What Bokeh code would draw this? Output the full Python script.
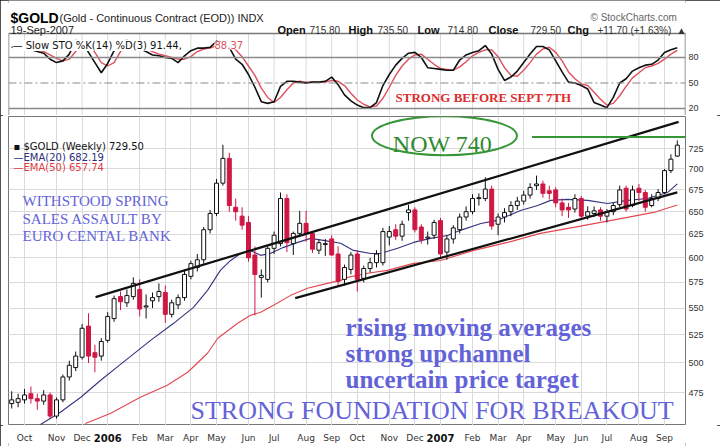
import math
from bokeh.plotting import figure
from bokeh.layouts import column
from bokeh.models import Range1d, FixedTicker, PrintfTickFormatter, Label, Span, ColumnDataSource
from bokeh.core.properties import value
from bokeh.embed import file_html
from bokeh.resources import INLINE

# ---------------- data (weekly bars, week 0 = 19-Sep-2005) ----------------
weeks = list(range(105))
opens = [466, 467, 469, 474, 470, 468, 473, 456, 469, 488,
         496, 505, 533, 509, 506, 520, 540, 561, 555, 561,
         568, 551, 557, 561, 565, 544, 553, 560, 581, 590,
         598, 630, 648, 683, 713, 655, 645, 638, 603, 580,
         578, 610, 615, 665, 615, 626, 637, 626, 608, 614,
         620, 604, 578, 588, 604, 579, 589, 595, 595, 622,
         630, 623, 649, 652, 633, 621, 624, 640, 606, 620,
         630, 644, 650, 665, 665, 676, 636, 644, 650, 657,
         662, 669, 680, 682, 674, 675, 660, 655, 653, 665,
         645, 648, 652, 645, 650, 658, 677, 657, 677, 672,
         657, 665, 672, 698, 715.8]
highs = [476, 474, 478, 480, 474, 477, 475, 471, 490, 502,
         510, 535, 545, 516, 522, 546, 562, 566, 568, 580,
         578, 563, 565, 574, 572, 558, 563, 588, 597, 604,
         633, 652, 688, 730, 720, 665, 655, 645, 612, 588,
         612, 628, 672, 670, 628, 651, 651, 628, 619, 620,
         624, 612, 593, 606, 608, 592, 600, 608, 632, 634,
         636, 640, 658, 655, 636, 628, 641, 643, 624, 635,
         648, 656, 670, 671, 690, 680, 648, 654, 662, 667,
         674, 683, 692, 686, 680, 678, 665, 660, 670, 668,
         656, 656, 655, 653, 660, 680, 680, 680, 682, 675,
         670, 676, 700, 718, 735.5]
lows = [462, 463, 466, 466, 461, 465, 454, 454, 467, 485,
        493, 503, 500, 492, 502, 518, 537, 548, 551, 558,
        542, 540, 550, 556, 536, 541, 549, 557, 578, 586,
        594, 626, 645, 680, 650, 640, 630, 596, 543, 560,
        575, 604, 612, 606, 603, 622, 617, 605, 604, 602,
        602, 572, 572, 583, 566, 575, 585, 590, 592, 613,
        619, 618, 640, 627, 615, 614, 620, 600, 598, 615,
        626, 640, 647, 657, 662, 630, 624, 638, 645, 652,
        658, 665, 675, 666, 664, 655, 645, 643, 649, 641,
        641, 644, 640, 638, 646, 655, 650, 655, 662, 650,
        655, 662, 670, 695, 714.8]
closes = [469, 470, 473, 470, 468, 473, 456, 469, 488, 498,
          506, 531, 506, 505, 519, 542, 559, 556, 562, 574,
          549, 552, 560, 566, 544, 555, 560, 583, 594, 598,
          630, 648, 683, 713, 657, 650, 635, 600, 583, 582,
          610, 624, 665, 616, 626, 637, 626, 609, 616, 615,
          603, 576, 590, 603, 578, 589, 595, 604, 628, 628,
          623, 636, 652, 630, 619, 622, 638, 604, 620, 632,
          644, 650, 665, 666, 676, 634, 644, 649, 657, 662,
          669, 678, 682, 671, 671, 660, 652, 652, 665, 645,
          650, 651, 645, 650, 657, 675, 653, 675, 672, 655,
          665, 672, 698, 712, 729.5]

# Slow stochastic %K(14) and %D(3), one value per week
sto_k = [92, 91, 90, 89, 87, 85, 78, 74, 76, 84,
         100, 99, 86, 74, 62, 73, 88, 99, 100, 94,
         90, 87, 83, 82, 80, 79, 74, 82, 88, 91,
         91, 92, 99, 97, 92, 78, 72, 60, 45, 28,
         26, 28, 46, 52, 52, 51, 50, 51, 51, 52,
         57, 48, 36, 29, 24, 21, 21, 27, 47, 60,
         71, 79, 85, 86, 80, 68, 67, 66, 65, 65,
         77, 83, 86, 88, 94, 84, 66, 53, 57, 64,
         74, 84, 93, 93, 89, 76, 63, 51, 50, 47,
         43, 27, 24, 21, 33, 50, 55, 64, 68, 71,
         72, 77, 86, 89, 91.44]
sto_d = [92, 91, 91, 90, 89, 87, 83, 79, 76, 78,
         87, 94, 95, 86, 74, 70, 74, 87, 96, 98,
         95, 90, 87, 84, 82, 80, 78, 78, 81, 87,
         90, 91, 94, 96, 96, 89, 81, 70, 59, 44,
         33, 27, 33, 42, 50, 52, 51, 51, 51, 51,
         53, 52, 47, 38, 30, 25, 22, 23, 32, 45,
         59, 70, 78, 83, 84, 78, 72, 67, 66, 65,
         69, 75, 82, 86, 89, 89, 81, 68, 59, 58,
         65, 74, 84, 90, 92, 86, 76, 63, 55, 49,
         47, 39, 31, 24, 26, 35, 46, 56, 62, 68,
         70, 73, 78, 84, 88.37]

# Moving averages (week, price)
ema20_weeks = [4.5, 7.6, 10.8, 13.9, 17.0, 21.7, 25.3, 28.4, 30.6, 32.6,
               34.2, 35.8, 37.3, 38.9, 40.4, 42.5, 44.7, 46.7, 48.7, 51.4,
               53.4, 56.1, 57.6, 60.3, 62.8, 65.4, 68.1, 70.1, 73.3, 75.9,
               79.5, 82.2, 84.2, 86.8, 90.0, 93.1, 96.2, 99.3, 102.5, 104.0]
ema20_vals = [449.4, 459.0, 471.1, 485.2, 498.8, 520.0, 535.6, 550.6, 567.1, 587.1,
              597.3, 604.6, 607.8, 602.6, 604.6, 611.0, 616.3, 620.6, 618.5, 615.3,
              607.8, 604.6, 604.6, 610.0, 616.3, 620.6, 623.8, 629.3, 636.9, 640.3,
              651.4, 657.1, 662.9, 664.0, 662.9, 659.4, 662.9, 665.1, 672.1, 682.2]
ema50_weeks = [11.5, 15.4, 20.1, 24.3, 27.5, 30.6, 32.2, 35.3, 37.3, 38.9,
               40.9, 43.6, 46.2, 49.3, 51.4, 52.5, 55.6, 58.7, 62.8, 67.0,
               72.2, 77.5, 82.6, 87.8, 92.0, 96.2, 100.3, 104.0]
ema50_vals = [450.2, 458.1, 471.1, 481.1, 492.0, 508.5, 521.9, 535.6, 543.1, 545.9,
              552.6, 562.2, 569.1, 574.0, 577.0, 580.0, 584.1, 587.1, 594.3, 597.3,
              607.8, 616.3, 626.0, 632.6, 638.1, 643.6, 649.2, 657.7]

# Hand-drawn channel lines and target line (week, price)
upper_channel_weeks = [13.1, 104.2]
upper_channel_prices = [560.5, 759.6]
lower_channel_weeks = [44.3, 104.0]
lower_channel_prices = [559.5, 672.1]
target_weeks = [81.3, 106.0]
target_prices = [740, 740]

# Axes
month_ticks = [2, 7, 11, 15, 20, 24, 28, 32, 37, 41, 46, 50,
               54, 59, 63, 67, 72, 76, 80, 85, 89, 93, 98, 102]
month_labels = ["Oct", "Nov", "Dec", "2006", "Feb", "Mar", "Apr", "May", "Jun", "Jul", "Aug", "Sep",
                "Oct", "Nov", "Dec", "2007", "Feb", "Mar", "Apr", "May", "Jun", "Jul", "Aug", "Sep"]
price_ticks = [475, 500, 525, 550, 575, 600, 625, 650, 675, 700, 725]
sto_levels = [20, 50, 80]

# ---------------- helpers for annotation placement ----------------
W = 720
BL, BR = 8, 35          # frame borders left / right
X0, X1 = -0.5, 105.28   # visible weeks
S0, S1 = 11.76, 108.2   # stochastic panel bounds


def wx(px):
    return (px - 11.2) / 6.4


def py(px):
    return math.exp(6.5862 - (px - 148) / 577.0)


def sy(px):
    return 80 - (px - 57) / 0.85


def lab(fig, x, y, text, size, color="#000000", font="DejaVu Sans", style="normal",
        align="left", baseline="alphabetic", bg=None):
    fig.add_layout(Label(x=x, y=y, text=text, text_font_size=f"{size}px", text_color=color,
                         text_font=font, text_font_style=style, text_align=align,
                         text_baseline=baseline, background_fill_color=bg))


def right_axis(fig, ticks):
    fig.yaxis.ticker = FixedTicker(ticks=ticks)
    fig.yaxis.axis_line_color = None
    fig.yaxis.major_tick_line_color = None
    fig.yaxis.minor_tick_line_color = None
    fig.yaxis.major_tick_out = 0
    fig.yaxis.minor_tick_out = 0
    fig.yaxis.major_label_text_font_size = "9px"
    fig.yaxis.major_label_text_color = "#333333"
    fig.yaxis.major_label_standoff = 3


GRID = "#dadada"
RED = "#cf1744"
BLUE_TXT = "#6363d9"
GREEN = "#379637"

xr = Range1d(X0, X1)

# ---------------- header + stochastic panel ----------------
sto = figure(width=W, height=115, x_range=xr, y_range=Range1d(S0, sy(0)), title=None,
             output_backend="svg", toolbar_location=None, x_axis_location=None,
             y_axis_location="right", min_border_left=BL, min_border_right=BR,
             min_border_top=0, min_border_bottom=0)
sto.outline_line_color = None
sto.xgrid.visible = False
sto.ygrid.visible = False
right_axis(sto, sto_levels)
sto.segment(x0=month_ticks, y0=[S0] * len(month_ticks), x1=month_ticks, y1=[S1] * len(month_ticks),
            line_color=GRID, line_width=1)
for lv in sto_levels:
    sto.add_layout(Span(location=lv, dimension="width", line_color="#8a8a8a",
                        line_width=1 if lv == 50 else 1.5,
                        line_dash="8 3 2 3" if lv == 50 else "solid"))
sto.line(weeks, sto_d, line_color="#e0505c", line_width=1.4)
sto.line(weeks, sto_k, line_color="#111111", line_width=1.6)
# panel border
sto.line([X0, X0, X1, X1], [S0, S1, S1, S0], line_color="#777777", line_width=1.5)

# header texts
lab(sto, wx(10), sy(18), "$GOLD", 14, font="Liberation Sans", style="bold")
lab(sto, wx(59), sy(18), "(Gold - Continuous Contract (EOD)) INDX", 11, color="#222222",
    font="Liberation Sans")
lab(sto, wx(10), sy(30), "19-Sep-2007", 11, color="#222222", font="Liberation Sans")
lab(sto, wx(590), sy(17), "\u00a9 StockCharts.com", 10, color="#666666", font="Liberation Sans")
hdr = [(277, "Open", True), (309, "715.80", False), (348, "High", True), (377, "735.50", False),
       (417, "Low", True), (447, "714.80", False), (488, "Close", True), (530, "729.50", False),
       (567, "Chg", True), (597, "+11.70 (+1.63%)", False), (676, "\u25b2", False)]
for hx, ht, hb in hdr:
    lab(sto, wx(hx), sy(30), ht, 11 if hb else 10, color="#111111" if hb else "#333333",
        font="Liberation Sans", style="bold" if hb else "normal")

# stochastic legend (white box hides lines underneath)
lab(sto, wx(12), sy(45), "\u2014 Slow STO %K(14) %D(3) 91.44, ", 10, color="#111111", bg="white")
lab(sto, wx(214), sy(45), "88.37", 10, color="#e0505c", bg="white")
lab(sto, wx(395), sy(97), "STRONG BEFORE SEPT 7TH", 13, color="#dd2b2b",
    font="Liberation Serif", style="bold")

# ---------------- price panel ----------------
pr = figure(width=W, height=310, x_range=xr, y_range=Range1d(448.6, 766.7), y_axis_type="log",
            title=None, output_backend="svg", toolbar_location=None, x_axis_location=None,
            y_axis_location="right", min_border_left=BL, min_border_right=BR,
            min_border_top=1, min_border_bottom=0)
pr.outline_line_color = "#777777"
pr.xgrid.ticker = FixedTicker(ticks=month_ticks)
pr.ygrid.ticker = FixedTicker(ticks=price_ticks)
pr.xgrid.grid_line_color = GRID
pr.ygrid.grid_line_color = GRID
right_axis(pr, price_ticks)
pr.yaxis.formatter = PrintfTickFormatter(format="%d")

up = [c >= o for o, c in zip(opens, closes)]
src = ColumnDataSource(dict(
    w=weeks, h=highs, l=lows,
    top=[max(o, c) for o, c in zip(opens, closes)],
    bot=[min(o, c) for o, c in zip(opens, closes)],
    fill=["white" if u else RED for u in up],
    edge=["#111111" if u else RED for u in up],
))

pr.line(ema50_weeks, ema50_vals, line_color="#e2474f", line_width=1.1)
pr.line(ema20_weeks, ema20_vals, line_color="#34347f", line_width=1.1)
pr.segment(x0="w", y0="h", x1="w", y1="l", line_color="edge", line_width=1, source=src)
pr.vbar(x="w", top="top", bottom="bot", width=0.62, fill_color="fill", line_color="edge",
        line_width=1, source=src)

pr.line(upper_channel_weeks, upper_channel_prices, line_color="#111111", line_width=2.2)
pr.line(lower_channel_weeks, lower_channel_prices, line_color="#111111", line_width=2.2)
pr.line(target_weeks, target_prices, line_color=GREEN, line_width=2)
pr.ellipse(x=[wx(444)], y=[py(135)], width=[145], height=[39], width_units="screen",
           height_units="screen", fill_color=None, line_color=GREEN, line_width=2)
lab(pr, wx(442), py(143), "NOW 740", 24, color="#2f8a2f", font="Liberation Serif", align="center")

# legend of price panel
lab(pr, wx(13), py(146), "\u25aa $GOLD (Weekly) 729.50", 10, color="#111111")
lab(pr, wx(13), py(157), "\u2014EMA(20) 682.19", 10, color="#2d2d7a")
lab(pr, wx(13), py(167), "\u2014EMA(50) 657.74", 10, color="#e03c44")

# hand-written notes
for txt, yb in [("WITHSTOOD SPRING", 200), ("SALES ASSAULT BY", 218), ("EURO CENTAL BANK", 235)]:
    lab(pr, wx(22), py(yb), txt, 15, color=BLUE_TXT, font="Liberation Serif")
for txt, yb in [("rising moving averages", 327), ("strong upchannel", 353), ("uncertain price target", 379)]:
    lab(pr, wx(345), py(yb), txt, 25, color=BLUE_TXT, font="Liberation Serif", style="bold")
lab(pr, wx(190), py(410), "STRONG FOUNDATION FOR BREAKOUT", 26, color=BLUE_TXT, font="Liberation Serif")

# ---------------- time axis strip ----------------
ax = figure(width=W, height=21, x_range=xr, y_range=Range1d(21, 0), title=None,
            output_backend="svg", toolbar_location=None, x_axis_location=None, y_axis_location=None,
            min_border_left=BL, min_border_right=BR, min_border_top=0, min_border_bottom=0)
ax.outline_line_color = None
ax.xgrid.visible = False
ax.ygrid.visible = False
m_x = [t for t, l in zip(month_ticks, month_labels) if not l.isdigit()]
m_t = [l for l in month_labels if not l.isdigit()]
y_x = [t for t, l in zip(month_ticks, month_labels) if l.isdigit()]
y_t = [l for l in month_labels if l.isdigit()]
ax.text(x=m_x, y=[12] * len(m_x), text=m_t, text_font=value("DejaVu Sans"), text_font_size="9px",
        text_color="#333333", text_align="center", text_baseline="alphabetic")
ax.text(x=y_x, y=[12] * len(y_x), text=y_t, text_font=value("DejaVu Sans"), text_font_size="10px",
        text_font_style="bold", text_color="#111111", text_align="center", text_baseline="alphabetic")

layout = column(sto, pr, ax, spacing=0,
                styles={"outline": "3px solid #1c1c1c", "outline-offset": "-3px"})
open("out.html", "w").write(file_html(layout, INLINE))
